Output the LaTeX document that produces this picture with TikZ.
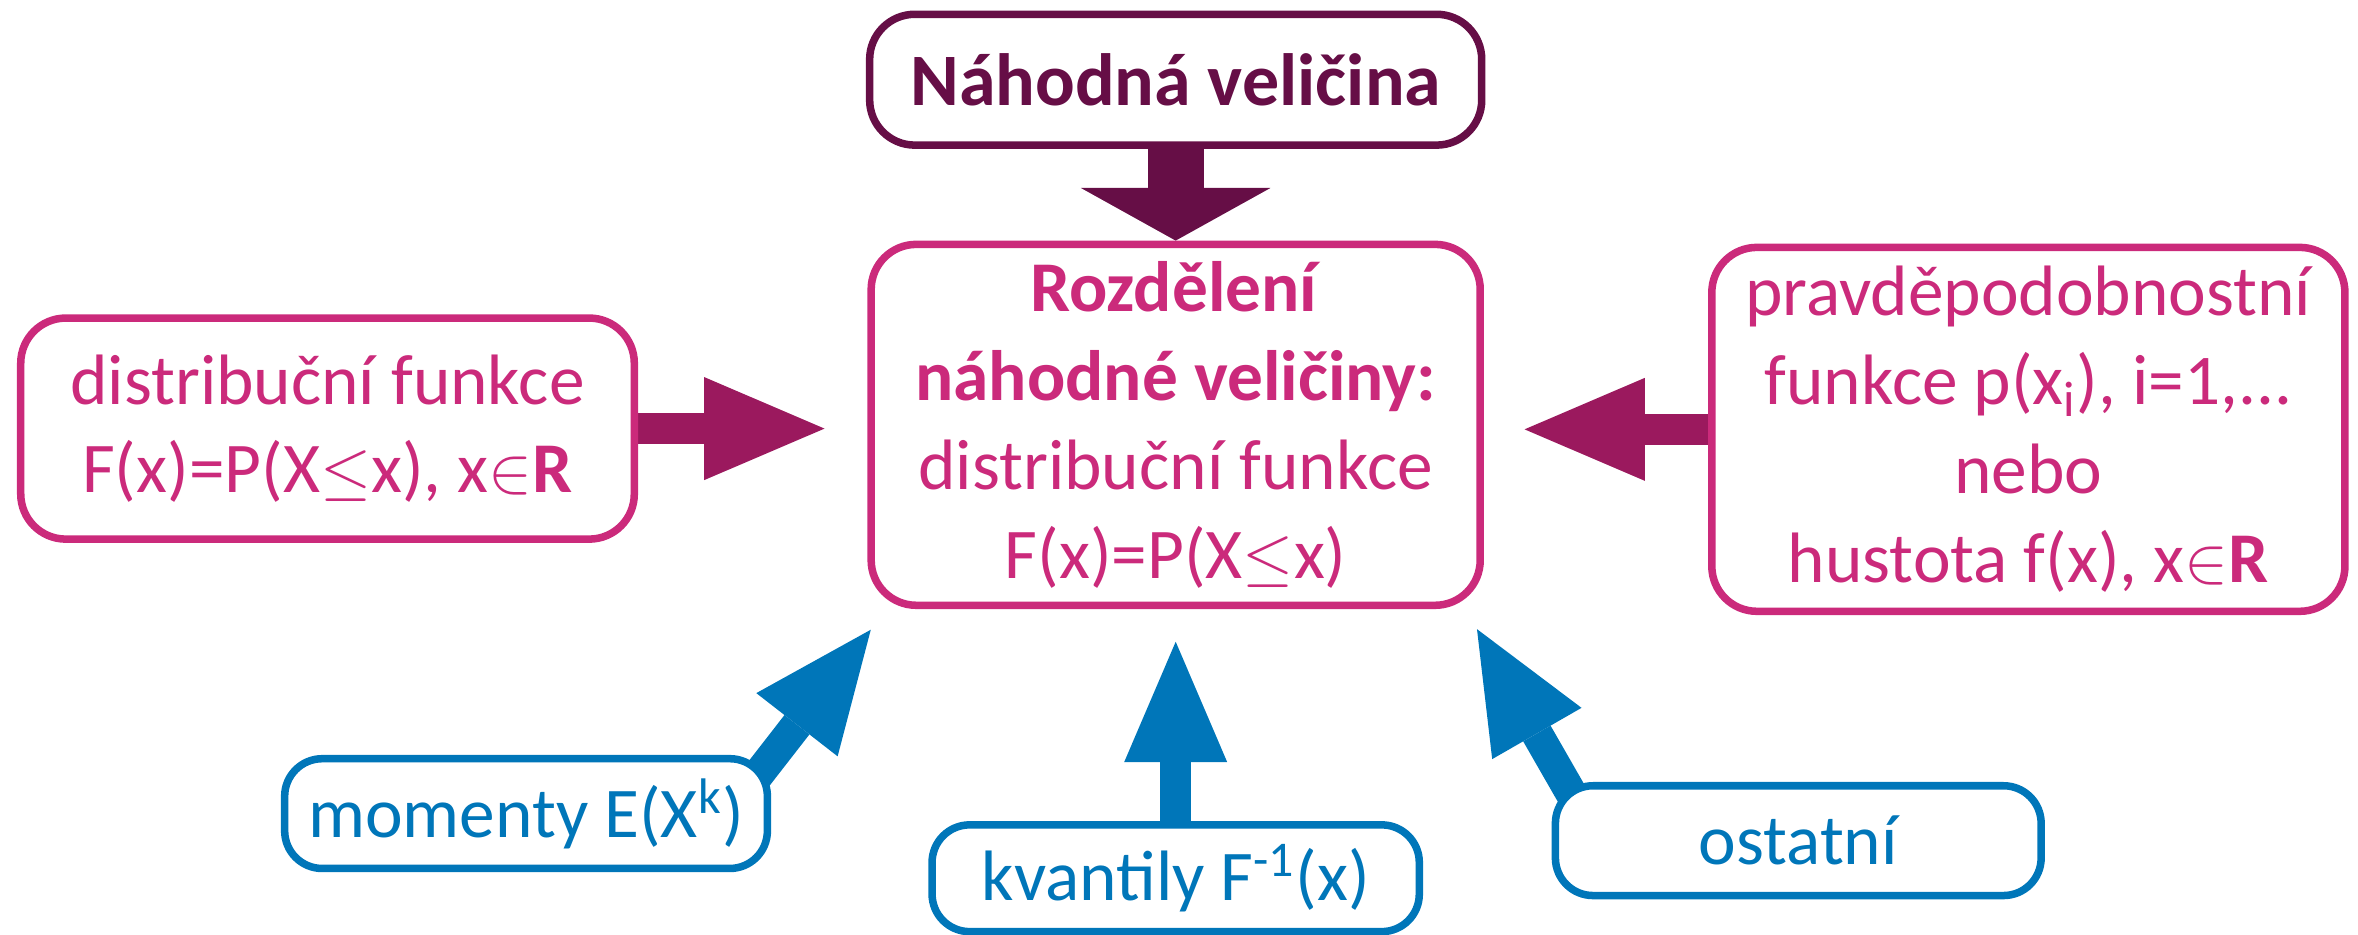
\documentclass[tikz,border=0pt]{standalone}
\usepackage{fontspec}
\setmainfont{Carlito}
\usetikzlibrary{arrows.meta,positioning,calc,backgrounds}

\definecolor{nvcol}{RGB}{102,14,70}
\definecolor{rozcol}{RGB}{203,42,123}
\definecolor{sipcol}{RGB}{155,25,94}
\definecolor{modra}{RGB}{0,118,185}

\begin{document}
\begin{tikzpicture}[on grid,
	box/.style={draw,line width=0.1cm,rounded corners=0.6cm,fill=white,
		align=center,inner sep=0pt,font=\fontsize{27}{33.6}\selectfont},
	pink/.style={box,draw=rozcol,text=rozcol},
	blue/.style={box,draw=modra,text=modra,rounded corners=0.5cm},
	fat/.style={line width=0.42cm,-{Triangle[length=1.6cm,width=1.37cm,line width=0pt]}},
	fattop/.style={line width=0.74cm,-{Triangle[length=0.7cm,width=2.52cm,line width=0pt]}}]
	\useasboundingbox (-15.636,5.65) rectangle (15.724,-6.784);
	\node[pink,minimum width=8.1cm,minimum height=4.8cm] (rozd)
		{\textbf{Rozdělení}\\\textbf{náhodné veličiny:}\\distribuční funkce\\F(x)=P(X$\leq$x)};
	\node[box,draw=nvcol,text=nvcol,minimum width=8.14cm,minimum height=1.74cm,
		font=\fontsize{28}{33.6}\selectfont\bfseries] (nv) [above=4.59cm of rozd] {Náhodná veličina};
	\node[pink,minimum width=8.16cm,minimum height=2.94cm] (df) [left=11.28cm of rozd,yshift=-0.05cm]
		{distribuční funkce\\F(x)=P(X$\leq$x), x$\in$\textbf{R}};
	\node[pink,minimum width=8.42cm,minimum height=4.84cm] (pf) [right=11.34cm of rozd,yshift=-0.06cm]
		{pravděpodobnostní\\funkce p(x\textsubscript{i}), i=1,...\\nebo\\hustota f(x), x$\in$\textbf{R}};
	\node[blue,minimum width=6.42cm,minimum height=1.46cm] (mom) [below left=5.17cm and 8.64cm of rozd]
		{momenty E(X\textsuperscript{k})};
	\node[blue,minimum width=6.48cm,minimum height=1.42cm] (kv) [below=6.03cm of rozd]
		{kvantily F\textsuperscript{-1}(x)};
	\node[blue,minimum width=6.46cm,minimum height=1.46cm] (ost) [below right=5.53cm and 8.28cm of rozd]
		{ostatní};
	\begin{scope}[on background layer]
	\path[fattop,nvcol] (nv) edge (rozd);
	\path[fat,sipcol]
	(df.east) edge [shorten >=0.57cm] (rozd.west |- df.east)
	(pf.west) edge [shorten >=0.54cm] (rozd.east |- pf.west);
	\path[fat,modra]
	(kv) edge [shorten >=0.435cm] (rozd)
	($(mom.north east)+(-0.21,-0.31)$) edge ($(rozd.south west)+(0.045,-0.275)$)
	($(ost.north west)+(0.364,-0.332)$) edge ($(rozd.south east)+(-0.093,-0.267)$);
	\end{scope}
\end{tikzpicture}
\end{document}
